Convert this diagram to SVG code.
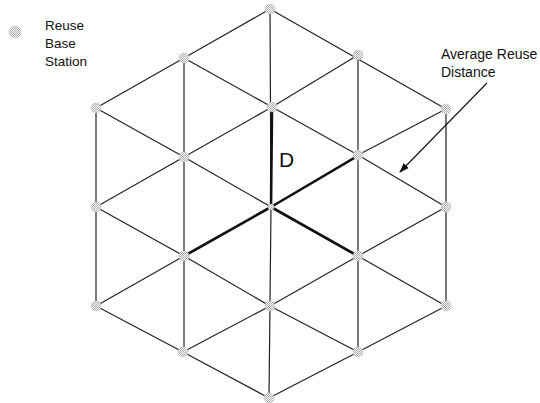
<svg xmlns="http://www.w3.org/2000/svg" width="540" height="403" viewBox="0 0 540 403">
<style>
.ln{fill:none;stroke:#222;stroke-width:1.2;stroke-linejoin:round}
.th{fill:none;stroke:#111;stroke-width:2.6;stroke-linecap:round}
.nd{fill:url(#st);stroke:#c4c4c4;stroke-width:0.6}
.tx{font-family:"Liberation Sans",Arial,sans-serif;font-size:13.5px;fill:#111}
.tx2{font-family:"Liberation Sans",Arial,sans-serif;font-size:14px;fill:#111}
</style>
<defs>
<pattern id="st" width="2" height="2" patternUnits="userSpaceOnUse">
<rect width="2" height="2" fill="#fff"/>
<rect width="1" height="1" fill="#aaa"/>
<rect x="1" y="1" width="1" height="1" fill="#aaa"/>
</pattern>
<marker id="ah" viewBox="0 0 10 10" refX="9" refY="5" markerWidth="10" markerHeight="10" markerUnits="userSpaceOnUse" orient="auto">
<path d="M0,1.5 L10,5 L0,8.5 z" fill="#111"/>
</marker>
</defs>
<g id="connectors">
<polyline class="ln" points="96,108 96,306"/>
<polyline class="ln" points="184,58 184,352"/>
<polyline class="ln" points="270,9 271,207 269,398"/>
<polyline class="ln" points="358,55 358,352"/>
<polyline class="ln" points="446,109 446,306"/>
<polyline class="ln" points="270,9 446,109"/>
<polyline class="ln" points="184,58 272,107 358,155 446,207"/>
<polyline class="ln" points="96,108 184,157 271,207 358,256 446,306"/>
<polyline class="ln" points="96,207 184,256 270,306 358,352"/>
<polyline class="ln" points="96,306 183,352 269,398"/>
<polyline class="ln" points="96,108 184,58 270,9"/>
<polyline class="ln" points="96,207 184,157 272,107 358,55"/>
<polyline class="ln" points="96,306 184,256 271,207 358,155 446,109"/>
<polyline class="ln" points="183,352 270,306 358,256 446,207"/>
<polyline class="ln" points="269,398 358,352 446,306"/>
<line class="th" x1="271" y1="207" x2="272" y2="109"/>
<line class="th" x1="271" y1="207" x2="356" y2="157"/>
<line class="th" x1="271" y1="207" x2="356" y2="255"/>
<line class="th" x1="271" y1="207" x2="186" y2="255"/>
<line x1="487" y1="83" x2="400" y2="172" stroke="#111" stroke-width="1.1" marker-end="url(#ah)"/>
</g>
<g id="legend">
<circle class="nd" cx="15" cy="32" r="6"/>
<text class="tx" x="45" y="30">Reuse</text>
<text class="tx" x="45" y="48">Base</text>
<text class="tx" x="45" y="66">Station</text>
</g>
<g id="label-avg">
<text class="tx2" x="441" y="59">Average Reuse</text>
<text class="tx2" x="441" y="77">Distance</text>
</g>
<g id="label-D">
<text x="279" y="167" font-family="Liberation Sans,Arial,sans-serif" font-size="21" fill="#111">D</text>
</g>
<g id="nodes">
<circle id="n1" class="nd" cx="270" cy="9" r="5"/>
<circle id="n2" class="nd" cx="184" cy="58" r="5"/>
<circle id="n3" class="nd" cx="358" cy="55" r="5"/>
<circle id="n4" class="nd" cx="96" cy="108" r="5"/>
<circle id="n5" class="nd" cx="272" cy="107" r="5"/>
<circle id="n6" class="nd" cx="446" cy="109" r="5"/>
<circle id="n7" class="nd" cx="184" cy="157" r="5"/>
<circle id="n8" class="nd" cx="358" cy="155" r="5"/>
<circle id="n9" class="nd" cx="96" cy="207" r="5"/>
<circle id="n10" class="nd" cx="271" cy="207" r="3"/>
<circle id="n11" class="nd" cx="446" cy="207" r="5"/>
<circle id="n12" class="nd" cx="184" cy="256" r="5"/>
<circle id="n13" class="nd" cx="358" cy="256" r="5"/>
<circle id="n14" class="nd" cx="96" cy="306" r="5"/>
<circle id="n15" class="nd" cx="270" cy="306" r="5"/>
<circle id="n16" class="nd" cx="446" cy="306" r="5"/>
<circle id="n17" class="nd" cx="183" cy="352" r="5"/>
<circle id="n18" class="nd" cx="358" cy="352" r="5"/>
<circle id="n19" class="nd" cx="269" cy="398" r="5"/>
</g>
</svg>
